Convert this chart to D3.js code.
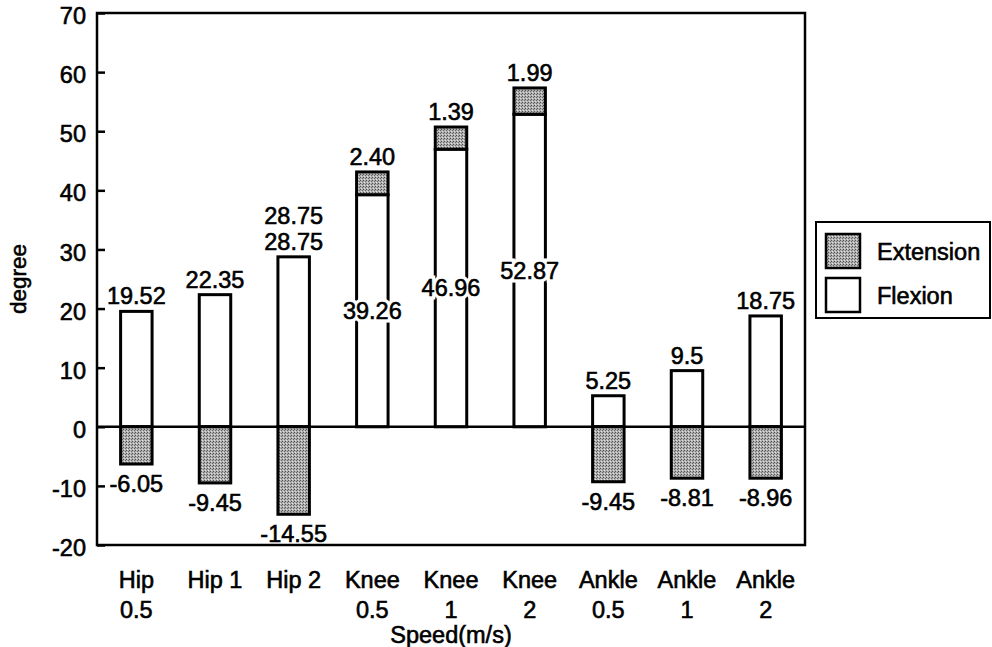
<!DOCTYPE html>
<html><head><meta charset="utf-8">
<script src="https://d3js.org/d3.v7.min.js"></script>
<style>
html,body{margin:0;padding:0;background:#fff;}
text{font-family:"Liberation Sans",Arial,Helvetica,sans-serif;fill:#000;}
.hv{stroke:#000;stroke-width:0.6px;}
</style></head>
<body><svg id="chart" width="992" height="647"></svg>
<script>
const categories = ["Hip\n0.5","Hip 1","Hip 2","Knee\n0.5","Knee\n1","Knee\n2","Ankle\n0.5","Ankle\n1","Ankle\n2"];
const flexion = [19.52, 22.35, 28.75, 39.26, 46.96, 52.87, 5.25, 9.5, 18.75];
// extension segment sizes as drawn in the picture (knee segments are drawn larger than their labels)
const extension = [-6.3, -9.5, -14.8, 3.85, 3.75, 4.45, -9.3, -8.7, -8.7];
const flexionLabels = ["19.52","22.35","28.75\n28.75","39.26","46.96","52.87","5.25","9.5","18.75"];
const extensionLabels = ["-6.05","-9.45","-14.55","2.40","1.39","1.99","-9.45","-8.81","-8.96"];
const yTicks = [-20,-10,0,10,20,30,40,50,60,70];
const seriesNames = ["Extension","Flexion"];
const yTitle = "degree";
const xTitle = "Speed(m/s)";

const svg = d3.select("#chart");
const L = 97, R = 805, T = 13, B = 545;
const FS = 23.5;

const defs = svg.append("defs");
const pat = defs.append("pattern").attr("id","stip").attr("width",3).attr("height",3).attr("patternUnits","userSpaceOnUse");
pat.append("rect").attr("width",3).attr("height",3).attr("fill","#b0b0b0");
pat.append("rect").attr("x",0).attr("y",0).attr("width",1).attr("height",1).attr("fill","#505050");
pat.append("rect").attr("x",2).attr("y",1).attr("width",1).attr("height",1).attr("fill","#686868");
pat.append("rect").attr("x",1).attr("y",2).attr("width",1).attr("height",1).attr("fill","#e0e0e0");

const x = d3.scaleBand().domain(categories).range([L,R]).paddingInner(0.6).paddingOuter(0.3);
const y = d3.scaleLinear().domain([-20,70]).range([B,T]);

const data = categories.map((c,i)=>{
  const f = flexion[i], e = extension[i];
  const e0 = e >= 0 ? f : 0, e1 = e >= 0 ? f + e : e;
  return {c, f, e, e0, e1, fl: flexionLabels[i], el: extensionLabels[i]};
});

const g = svg.append("g");
g.selectAll("rect.flex").data(data).join("rect").attr("class","flex")
  .attr("x",d=>x(d.c)).attr("width",x.bandwidth())
  .attr("y",d=>y(d.f)).attr("height",d=>y(0)-y(d.f))
  .attr("fill","#fff").attr("stroke","#000").attr("stroke-width",3);
g.selectAll("rect.ext").data(data).join("rect").attr("class","ext")
  .attr("x",d=>x(d.c)).attr("width",x.bandwidth())
  .attr("y",d=>y(Math.max(d.e0,d.e1))).attr("height",d=>Math.abs(y(d.e0)-y(d.e1)))
  .attr("fill","url(#stip)").attr("stroke","#000").attr("stroke-width",3);

svg.append("line").attr("x1",L).attr("x2",R).attr("y1",y(0)).attr("y2",y(0)).attr("stroke","#000").attr("stroke-width",2.5);

svg.append("rect").attr("x",L).attr("y",T).attr("width",R-L).attr("height",B-T)
  .attr("fill","none").attr("stroke","#000").attr("stroke-width",2.5);

const ya = svg.append("g").attr("transform",`translate(${L},0)`)
  .call(d3.axisLeft(y).tickValues(yTicks).tickSize(-8).tickPadding(11).tickFormat(d=>String(d)));
ya.select(".domain").remove();
ya.selectAll("line").attr("stroke","#000").attr("stroke-width",2.5);
ya.selectAll("text").attr("font-size",FS).attr("fill","#000").attr("dy","0.45em").attr("class","hv")
  .style("font-family","Liberation Sans, Arial, sans-serif");

const xa = svg.append("g").attr("transform",`translate(0,${B})`)
  .call(d3.axisBottom(x).tickSize(0).tickFormat(""));
xa.select(".domain").remove();
xa.selectAll(".tick").each(function(d){
  const t = d3.select(this).append("text").attr("text-anchor","middle").attr("font-size",FS).attr("fill","#000")
    .attr("class","hv").style("font-family","Liberation Sans, Arial, sans-serif");
  d.split("\n").forEach((s,i)=>t.append("tspan").attr("x",0).attr("y",43+i*30).text(s));
});

const lab = svg.append("g").attr("font-size",FS).attr("text-anchor","middle");
data.forEach(d=>{
  const cx = x(d.c) + x.bandwidth()/2;
  if (d.e < 0) {
    const lines = d.fl.split("\n");
    const t = lab.append("text").attr("class","hv");
    lines.forEach((s,i)=>{
      t.append("tspan").attr("x",cx).attr("y",y(d.f)-7-(lines.length-1-i)*26).text(s);
    });
    lab.append("text").attr("class","hv").attr("x",cx).attr("y",y(d.e)+28).text(d.el);
  } else {
    lab.append("text").attr("class","hv").attr("x",cx).attr("y",y(d.e1)-7).text(d.el);
    const yy = y(d.f/2)+8;
    lab.append("text").attr("x",cx).attr("y",yy).text(d.fl)
      .attr("stroke","#fff").attr("stroke-width",7).attr("fill","#fff");
    lab.append("text").attr("class","hv").attr("x",cx).attr("y",yy).text(d.fl);
  }
});

svg.append("text").attr("class","hv").attr("transform",`translate(26,${(T+B)/2}) rotate(-90)`).attr("text-anchor","middle")
  .attr("font-size",FS-1).text(yTitle);
svg.append("text").attr("class","hv").attr("x",(L+R)/2).attr("y",643).attr("text-anchor","middle").attr("font-size",FS).text(xTitle);

const lg = svg.append("g");
lg.append("rect").attr("x",816).attr("y",222).attr("width",174).attr("height",96)
  .attr("fill","#fff").attr("stroke","#000").attr("stroke-width",2);
const lfill = ["url(#stip)","#fff"];
seriesNames.forEach((n,i)=>{
  lg.append("rect").attr("x",826).attr("y",234+i*44).attr("width",34).attr("height",34)
    .attr("fill",lfill[i]).attr("stroke","#000").attr("stroke-width",2.5);
  lg.append("text").attr("class","hv").attr("x",877).attr("y",260+i*44).attr("font-size",FS).text(n);
});
</script></body></html>
